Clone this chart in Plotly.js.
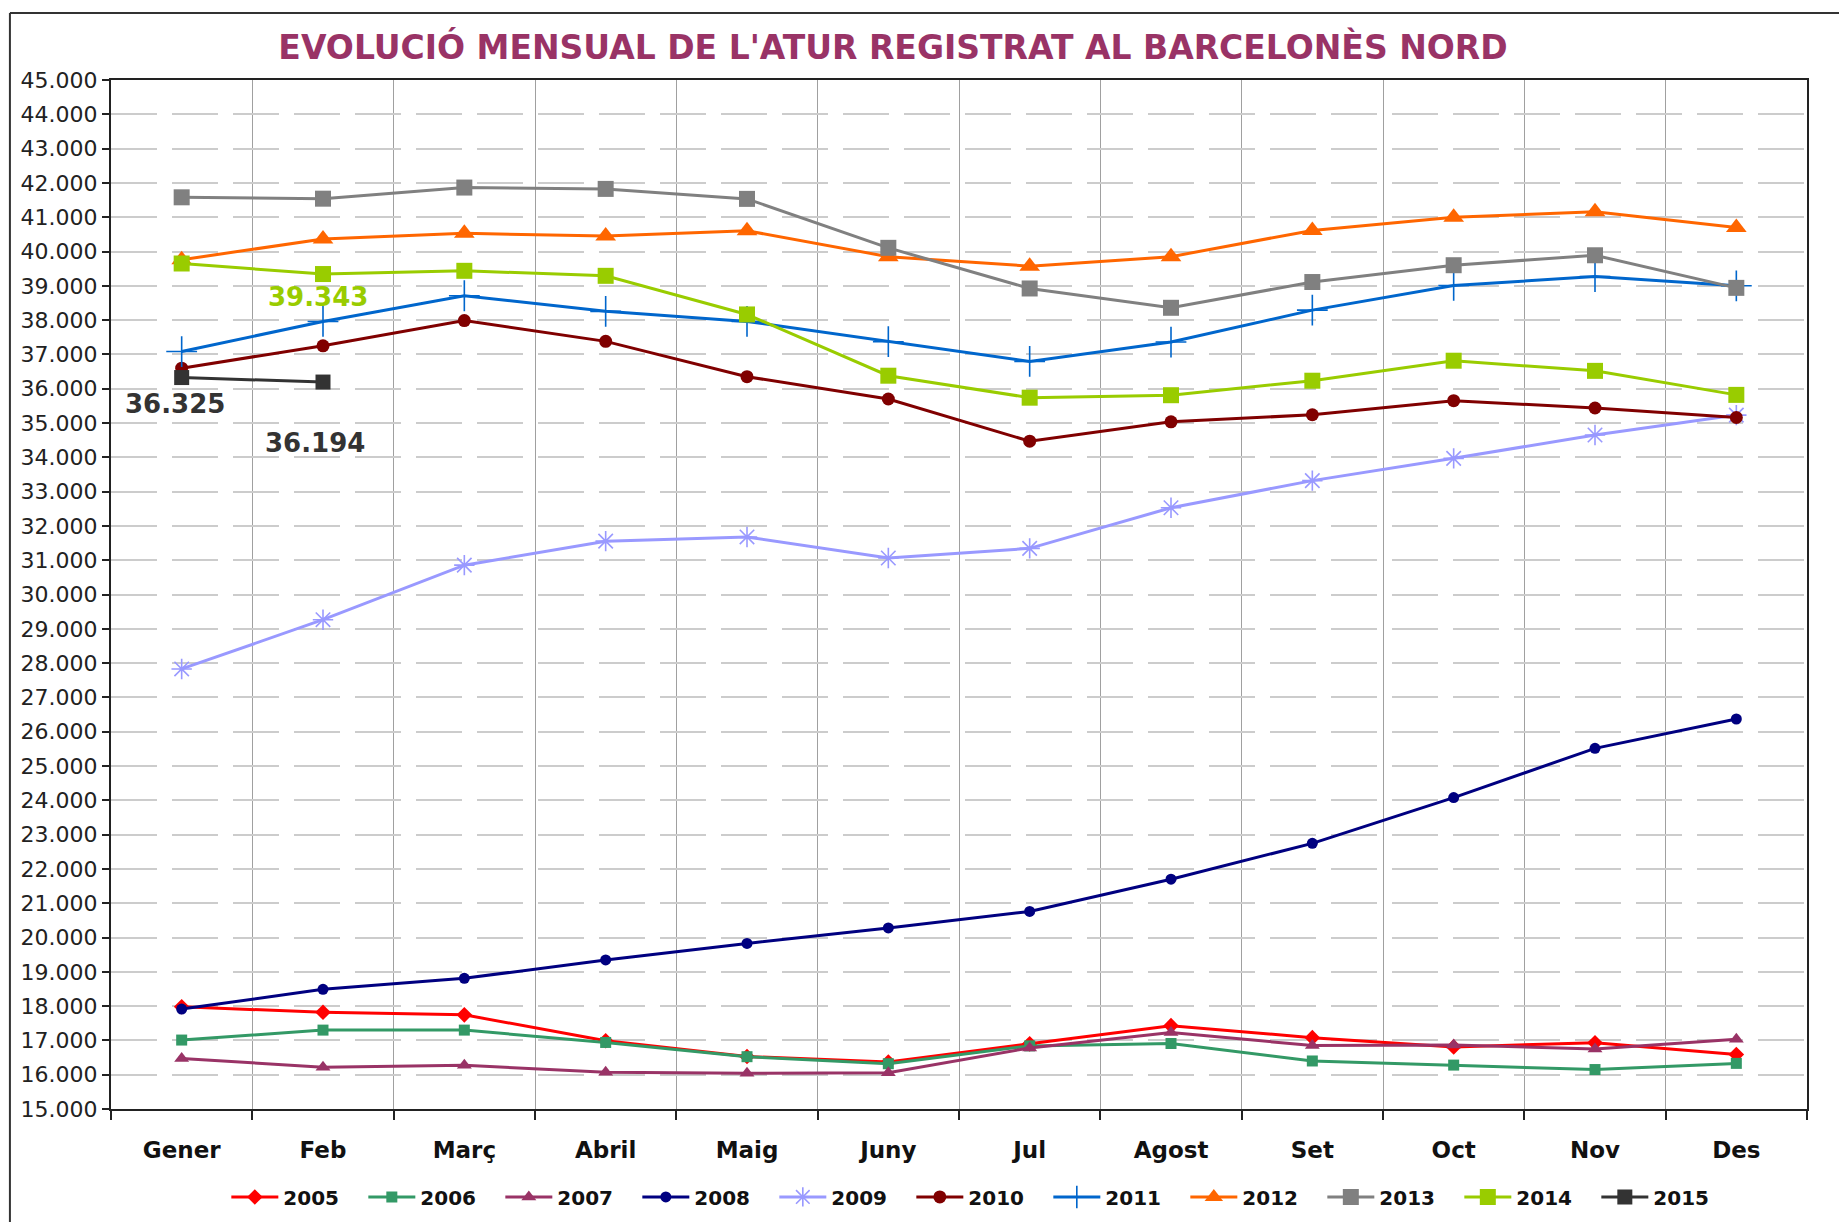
<!DOCTYPE html>
<html>
<head>
<meta charset="utf-8">
<script src="https://cdn.plot.ly/plotly-3.0.1.min.js"></script>
<style>
  html, body { margin: 0; padding: 0; background: #fff; }
  #chart { width: 1839px; height: 1222px; }
</style>
</head>
<body>
<div id="chart"></div>
<script>
// ---- DATA ----
const months = ['Gener','Feb','Març','Abril','Maig','Juny','Jul','Agost','Set','Oct','Nov','Des'];
const years = ['2005','2006','2007','2008','2009','2010','2011','2012','2013','2014','2015'];
const y2005 = [17980,17820,17745,16990,16530,16370,16900,17430,17080,16810,16930,16590];
const y2006 = [17010,17300,17300,16940,16525,16320,16840,16910,16400,16280,16150,16330];
const y2007 = [16470,16220,16275,16070,16040,16060,16780,17230,16850,16865,16750,17030];
const y2008 = [17915,18490,18810,19346,19827,20279,20760,21700,22745,24080,25515,26370];
const y2009 = [27830,29265,30855,31555,31678,31064,31345,32530,33320,33970,34650,35230];
const y2010 = [36599,37251,37985,37380,36350,35700,34470,35035,35240,35650,35437,35160];
const y2011 = [37083,37960,38710,38255,37961,37370,36796,37360,38291,39010,39270,39000];
const y2012 = [39760,40365,40530,40450,40605,39850,39573,39850,40615,41000,41160,40700];
const y2013 = [41580,41540,41864,41825,41534,40107,38922,38359,39110,39600,39890,38940];
const y2014 = [39650,39343,39437,39291,38165,36379,35738,35810,36233,36816,36520,35820];
const y2015 = [36325,36194];
const titleText = "EVOLUCIÓ MENSUAL DE L'ATUR REGISTRAT AL BARCELONÈS NORD";

// ---- STYLES ----
const seriesValues = [y2005,y2006,y2007,y2008,y2009,y2010,y2011,y2012,y2013,y2014,y2015];
const styles = [
  {color:'#FF0000', symbol:'diamond', size:12},
  {color:'#339966', symbol:'square', size:11},
  {color:'#993366', symbol:'triangle-up', size:13},
  {color:'#000080', symbol:'circle', size:11},
  {color:'#9999FF', symbol:'asterisk-open', size:17},
  {color:'#800000', symbol:'circle', size:13},
  {color:'#0066CC', symbol:'cross-thin-open', size:22},
  {color:'#FF6600', symbol:'triangle-up', size:18},
  {color:'#808080', symbol:'square', size:16},
  {color:'#99CC00', symbol:'square', size:16},
  {color:'#333333', symbol:'square', size:15}
];

const traces = seriesValues.map((vals, i) => {
  const s = styles[i];
  const open = s.symbol.indexOf('open') >= 0;
  return {
    type: 'scatter',
    mode: 'lines+markers',
    name: years[i],
    x: months.slice(0, vals.length),
    y: vals,
    line: {color: s.color, width: 3},
    marker: {
      symbol: s.symbol,
      size: s.size,
      color: s.color,
      line: {color: s.color, width: open ? 1.6 : 0}
    },
    hoverinfo: 'x+y+name'
  };
});

function fmt(v) {
  return String(v).replace(/\B(?=(\d{3})+(?!\d))/g, '.');
}

const annFont = {family: 'DejaVu Sans, Verdana, sans-serif', size: 26};
const annotations = [
  {x: months[1], y: y2014[1], text: '<b>' + fmt(y2014[1]) + '</b>', showarrow: false,
   xshift: -5, yshift: -23, font: Object.assign({}, annFont, {color: '#99CC00'})},
  {x: months[0], y: y2015[0], text: '<b>' + fmt(y2015[0]) + '</b>', showarrow: false,
   xshift: -7, yshift: -26, font: Object.assign({}, annFont, {color: '#333333'})},
  {x: months[1], y: y2015[1], text: '<b>' + fmt(y2015[1]) + '</b>', showarrow: false,
   xshift: -8, yshift: -61, font: Object.assign({}, annFont, {color: '#333333'})}
];

// outer frame (top and left edges of the chart area border)
const shapes = [
  {type: 'line', xref: 'paper', yref: 'paper', x0: -0.0596, x1: 1.02, y0: 1.0651, y1: 1.0651,
   line: {color: '#333333', width: 2}},
  {type: 'line', xref: 'paper', yref: 'paper', x0: -0.0596, x1: -0.0596, y0: 1.0651, y1: -0.12,
   line: {color: '#333333', width: 2}}
];

const layout = {
  width: 1839,
  height: 1222,
  margin: {l: 111, r: 32, t: 80, b: 113},
  paper_bgcolor: '#ffffff',
  plot_bgcolor: '#ffffff',
  separators: ',.',
  font: {family: 'DejaVu Sans, Verdana, sans-serif', color: '#111'},
  title: {
    text: '<b>' + titleText + '</b>',
    font: {family: 'DejaVu Sans, Verdana, sans-serif', size: 33, color: '#993366'},
    xref: 'container', yref: 'container',
    x: 0.4856, xanchor: 'center',
    y: 0.9615, yanchor: 'middle'
  },
  xaxis: {
    type: 'category',
    range: [-0.5, 11.5],
    tickson: 'boundaries',
    showgrid: true,
    gridcolor: '#a0a0a0',
    gridwidth: 1,
    showline: true,
    linecolor: '#222222',
    linewidth: 2,
    mirror: true,
    ticks: 'outside',
    ticklen: 9,
    tickwidth: 1.5,
    tickcolor: '#222222',
    ticklabelstandoff: 19,
    tickfont: {family: 'DejaVu Sans, Verdana, sans-serif', size: 23, color: '#111', weight: 'bold'},
    fixedrange: true,
    zeroline: false
  },
  yaxis: {
    range: [15000, 45000],
    dtick: 1000,
    tick0: 15000,
    tickformat: ',d',
    showgrid: true,
    gridcolor: '#cccccc',
    gridwidth: 1.5,
    griddash: '46px,15px',
    showline: true,
    linecolor: '#222222',
    linewidth: 2,
    mirror: true,
    ticks: 'outside',
    ticklen: 7,
    tickwidth: 1.5,
    tickcolor: '#222222',
    tickfont: {family: 'DejaVu Sans, Verdana, sans-serif', size: 22, color: '#222'},
    zeroline: false,
    fixedrange: true
  },
  showlegend: true,
  legend: {
    orientation: 'h',
    xref: 'paper', yref: 'container',
    x: 0.068, xanchor: 'left',
    y: 0.0205, yanchor: 'middle',
    font: {family: 'DejaVu Sans, Verdana, sans-serif', size: 20, color: '#111', weight: 'bold'},
    itemwidth: 47,
    entrywidth: 75,
    entrywidthmode: 'pixels',
    bgcolor: 'rgba(0,0,0,0)',
    tracegroupgap: 0
  },
  annotations: annotations,
  shapes: shapes,
  hovermode: 'closest'
};

Plotly.newPlot('chart', traces, layout, {displayModeBar: false, responsive: false});
</script>
</body>
</html>
